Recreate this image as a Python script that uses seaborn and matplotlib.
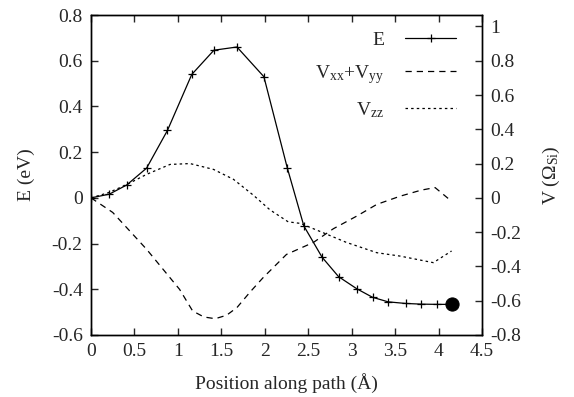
import matplotlib
matplotlib.use("Agg")
import matplotlib.pyplot as plt
import seaborn as sns
import pandas as pd
from matplotlib.lines import Line2D

# ---- data ----
e_x = [0.0, 0.21, 0.41, 0.64, 0.88, 1.16, 1.415, 1.68, 1.99, 2.26, 2.45, 2.66, 2.85,
       3.06, 3.24, 3.42, 3.62, 3.80, 3.98, 4.15]
e_y = [0.0, 0.016, 0.056, 0.13, 0.295, 0.54, 0.646, 0.66, 0.53, 0.13, -0.123, -0.26,
       -0.345, -0.398, -0.435, -0.455, -0.462, -0.465, -0.466, -0.466]

vxy_x = [0.0, 0.25, 0.64, 1.02, 1.17, 1.30, 1.43, 1.56, 1.68, 1.83, 1.98, 2.25, 2.56,
         2.79, 3.06, 3.29, 3.56, 3.80, 3.96, 4.15]
vxy_y = [0.0, -0.085, -0.30, -0.534, -0.66, -0.695, -0.705, -0.685, -0.64, -0.55, -0.466,
         -0.33, -0.26, -0.18, -0.106, -0.038, 0.01, 0.045, 0.06, -0.02]

vzz_x = [0.0, 0.2, 0.41, 0.64, 0.91, 1.14, 1.41, 1.64, 1.87, 2.06, 2.27, 2.41, 2.67,
         2.94, 3.29, 3.56, 3.94, 4.15]
vzz_y = [0.0, 0.03, 0.077, 0.137, 0.195, 0.2, 0.166, 0.108, 0.015, -0.07, -0.14,
         -0.149, -0.203, -0.26, -0.32, -0.34, -0.378, -0.31]

end_x = [4.15]
end_y = [-0.466]

x_ticks = [0, 0.5, 1, 1.5, 2, 2.5, 3, 3.5, 4, 4.5]
y_ticks = [-0.6, -0.4, -0.2, 0, 0.2, 0.4, 0.6, 0.8]
y2_ticks = [-0.8, -0.6, -0.4, -0.2, 0, 0.2, 0.4, 0.6, 0.8, 1]

sns.set_style("ticks")
plt.rcParams["font.family"] = ["Liberation Serif", "DejaVu Serif"]
plt.rcParams["mathtext.default"] = "regular"
plt.rcParams["font.size"] = 14
plt.rcParams["axes.linewidth"] = 1.0

FS = 14
fig = plt.figure(figsize=(5.74, 3.97), dpi=100)
ax = fig.add_axes([0.1585, 0.1562, 0.6812, 0.806])
ax2 = ax.twinx()

df_e = pd.DataFrame({"x": e_x, "y": e_y})
df_v1 = pd.DataFrame({"x": vxy_x, "y": vxy_y})
df_v2 = pd.DataFrame({"x": vzz_x, "y": vzz_y})

sns.lineplot(data=df_e, x="x", y="y", ax=ax, color="black", lw=0.9, marker="+",
             markersize=6, markeredgewidth=0.9, markeredgecolor="black",
             sort=False, estimator=None)
sns.scatterplot(x=end_x, y=end_y, ax=ax, color="black", s=90, edgecolor="black",
                zorder=5, clip_on=False)
sns.lineplot(data=df_v1, x="x", y="y", ax=ax2, color="black", lw=0.9,
             dashes=False, sort=False, estimator=None)
sns.lineplot(data=df_v2, x="x", y="y", ax=ax2, color="black", lw=0.9,
             dashes=False, sort=False, estimator=None)
ax2.lines[0].set_dashes([5, 4])
ax2.lines[1].set_dashes([2, 2.5])

ax.set_xlim(0, 4.5)
ax.set_ylim(-0.6, 0.8)
ax2.set_ylim(-0.8, 0.8 * 1.4 / 0.6 - 0.8)
ax.set_xticks(x_ticks)
ax.set_xticklabels([f"{t:g}" for t in x_ticks])
ax.set_yticks(y_ticks)
ax.set_yticklabels([f"{t:g}" for t in y_ticks])
ax2.set_yticks(y2_ticks)
ax2.set_yticklabels([f"{t:g}" for t in y2_ticks])

ax.tick_params(axis="x", direction="in", top=True, length=5, width=1, labelsize=FS, pad=6)
ax.tick_params(axis="y", direction="in", right=False, length=5, width=1, labelsize=FS, pad=6)
ax2.tick_params(axis="y", direction="in", length=5, width=1, labelsize=FS, pad=6)

ax.set_xlabel("Position along path (Å)", fontsize=FS, labelpad=9)
ax.set_ylabel("E (eV)", fontsize=FS, labelpad=12)
ax2.set_ylabel("V (Ω$_{Si}$)", fontsize=FS, labelpad=14)

for a in (ax, ax2):
    for s in a.spines.values():
        s.set_visible(True)
        s.set_color("black")
        s.set_linewidth(1.0)

handles = [
    Line2D([], [], color="black", lw=0.9, marker="+", markersize=6, markeredgewidth=0.9, markevery=[1]),
    Line2D([], [], color="black", lw=0.9, dashes=[5, 4]),
    Line2D([], [], color="black", lw=0.9, dashes=[2, 2.5]),
]
labels = ["E", "V$_{xx}$+V$_{yy}$", "V$_{zz}$"]
leg = ax2.legend(handles, labels, loc="upper right", bbox_to_anchor=(0.963, 0.985),
                 frameon=False, markerfirst=False, handlelength=2.6, labelspacing=0.72,
                 fontsize=FS, handletextpad=1.1, borderaxespad=0.2)

fig.savefig("out.png", dpi=100)
